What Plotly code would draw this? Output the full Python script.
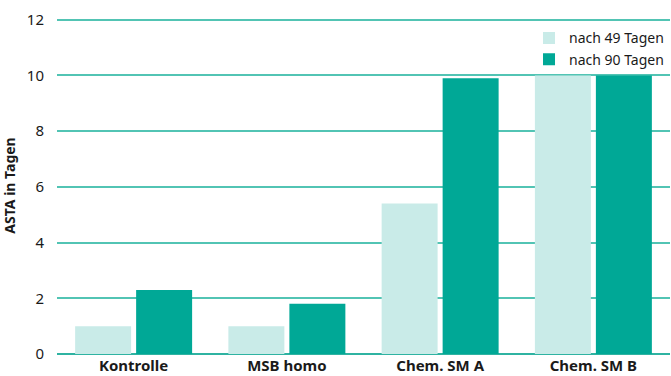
import plotly.graph_objects as go

categories = ["Kontrolle", "MSB homo", "Chem. SM A", "Chem. SM B"]
series_49 = [1.0, 1.0, 5.4, 10.0]
series_90 = [2.3, 1.8, 9.9, 10.0]
y_ticks = [0, 2, 4, 6, 8, 10, 12]

FONT = "Noto Sans"
LIGHT = "#c9ebe8"
DARK = "#00a896"
GRID = "#52c4b4"
TXT = "#1a1a1a"

fig = go.Figure()
fig.add_trace(go.Bar(name="nach 49 Tagen", x=categories, y=series_49,
                     marker=dict(color=LIGHT, line=dict(width=0))))
fig.add_trace(go.Bar(name="nach 90 Tagen", x=categories, y=series_90,
                     marker=dict(color=DARK, line=dict(width=0))))

fig.update_layout(
    width=671, height=376,
    margin=dict(l=57, r=1, t=17, b=22),
    paper_bgcolor="white", plot_bgcolor="white",
    barmode="group", bargap=0.204, bargroupgap=0.082,
    font=dict(family=FONT, size=15, color=TXT),
    showlegend=True,
    legend=dict(x=0.77, xanchor="left", y=0.984, yanchor="top",
                bgcolor="rgba(255,255,255,0)", font=dict(size=14, color=TXT),
                tracegroupgap=0, itemwidth=30),
    xaxis=dict(showgrid=False, showline=False, ticks="", zeroline=False,
               ticklabelstandoff=1,
               tickfont=dict(family=FONT, size=15, color=TXT, weight="bold")),
    yaxis=dict(range=[0, 12.1], tickvals=y_ticks, showgrid=True, gridcolor=GRID,
               gridwidth=1.5, zeroline=True, zerolinecolor="#2fb3a2", zerolinewidth=1.5,
               ticks="", ticklabelstandoff=12, showline=False,
               tickfont=dict(family=FONT, size=15, color=TXT),
               title=dict(text="ASTA in Tagen", standoff=9,
                          font=dict(family=FONT, size=14, color=TXT, weight="bold"))),
)

fig.write_html("out.html")
